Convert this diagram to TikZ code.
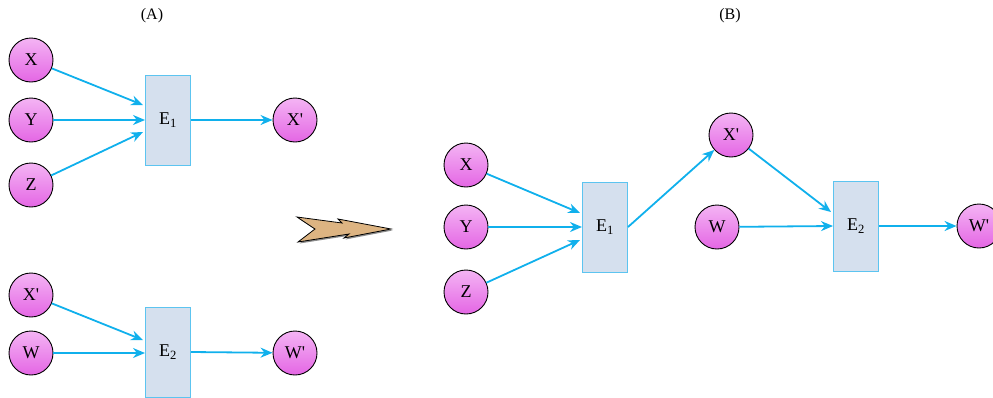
\documentclass[tikz,border=0pt]{standalone}
\usepackage{fontspec}
\setmainfont{Liberation Serif}
\usetikzlibrary{arrows.meta,calc}
\definecolor{flowblue}{HTML}{10B0EC}
\definecolor{boxfill}{HTML}{D5E0EE}
\definecolor{boxline}{HTML}{5CC4F0}
\definecolor{ballhi}{HTML}{F4B4F4}
\definecolor{balllo}{HTML}{E466E4}
\definecolor{chevron}{HTML}{DDB482}
\newcommand{\pr}{\textquotesingle}
\tikzset{
  ball/.style={circle, draw=black, line width=0.9pt, top color=ballhi, bottom color=balllo,
    minimum size=44pt, inner sep=0pt, font=\fontsize{18}{21}\selectfont},
  enzyme/.style={rectangle, draw=boxline, line width=1pt, fill=boxfill,
    minimum width=45pt, minimum height=90pt, inner sep=0pt, font=\fontsize{18}{21}\selectfont},
  flow/.style={-{Stealth[length=12pt,width=10pt]}, flowblue, line width=1.8pt},
  caption/.style={font=\fontsize{16}{19}\selectfont}
}
\begin{document}
\begin{tikzpicture}[x=1pt,y=-1pt]
  \useasboundingbox (0,0) rectangle (993,397);

  % Teil (A), oben
  \node[caption] (labA) at (152,16) {(A)};
  \node[ball] (ax) at (31,60) {X};
  \node[ball] (ay) at (31,120) {Y};
  \node[ball] (az) at (31,185) {Z};
  \node[enzyme] (ae1) at (168,120) {E\textsubscript{1}};
  \node[ball] (axp) at (295,120) {X\pr};
  \draw[flow] (ax) -- ([shift={(-2,-15)}]ae1.west);
  \draw[flow] (ay) -- (ae1.west);
  \draw[flow] (az) -- ([shift={(-2,12)}]ae1.west);
  \draw[flow] (ae1.east) -- (axp);

  % Teil (A), unten
  \node[ball] (bxp) at (31,295) {X\pr};
  \node[ball] (bw) at (31,353) {W};
  \node[enzyme] (ae2) at (168,352) {E\textsubscript{2}};
  \node[ball] (bwp) at (295,353) {W\pr};
  \draw[flow] (bxp) -- ([shift={(-2,-12)}]ae2.west);
  \draw[flow] (bw) -- ([yshift=-1pt]ae2.west);
  \draw[flow] (ae2.east) -- (bwp);

  % Doppelpfeil
  \fill[black!45, xshift=1.5pt, yshift=-1.5pt]
    (297,217) -- (342,223) -- (338,219) -- (391,229) -- (344,238) -- (349,234)
    -- (298,242) -- (315,229) -- cycle;
  \draw[fill=chevron, line width=0.8pt, line join=miter]
    (297,217) -- (342,223) -- (338,219) -- (391,229) -- (344,238) -- (349,234)
    -- (298,242) -- (315,229) -- cycle;

  % Teil (B)
  \node[caption] (labB) at (730,16) {(B)};
  \node[ball] (cx) at (466,165) {X};
  \node[ball] (cy) at (466,227) {Y};
  \node[ball] (cz) at (466,292) {Z};
  \node[enzyme] (be1) at (605,227) {E\textsubscript{1}};
  \node[ball] (cxp) at (731,135) {X\pr};
  \node[ball] (cw) at (717,227) {W};
  \node[enzyme] (be2) at (856,226) {E\textsubscript{2}};
  \node[ball] (cwp) at (979,226) {W\pr};
  \draw[flow] (cx) -- ([shift={(-2,-14)}]be1.west);
  \draw[flow] (cy) -- (be1.west);
  \draw[flow] (cz) -- ([shift={(-2,13)}]be1.west);
  \draw[flow] (be1.east) -- (cxp);
  \draw[flow] (cxp) -- ([shift={(-2,-14)}]be2.west);
  \draw[flow] (cw) -- (be2.west);
  \draw[flow] (be2.east) -- (cwp);
\end{tikzpicture}
\end{document}
